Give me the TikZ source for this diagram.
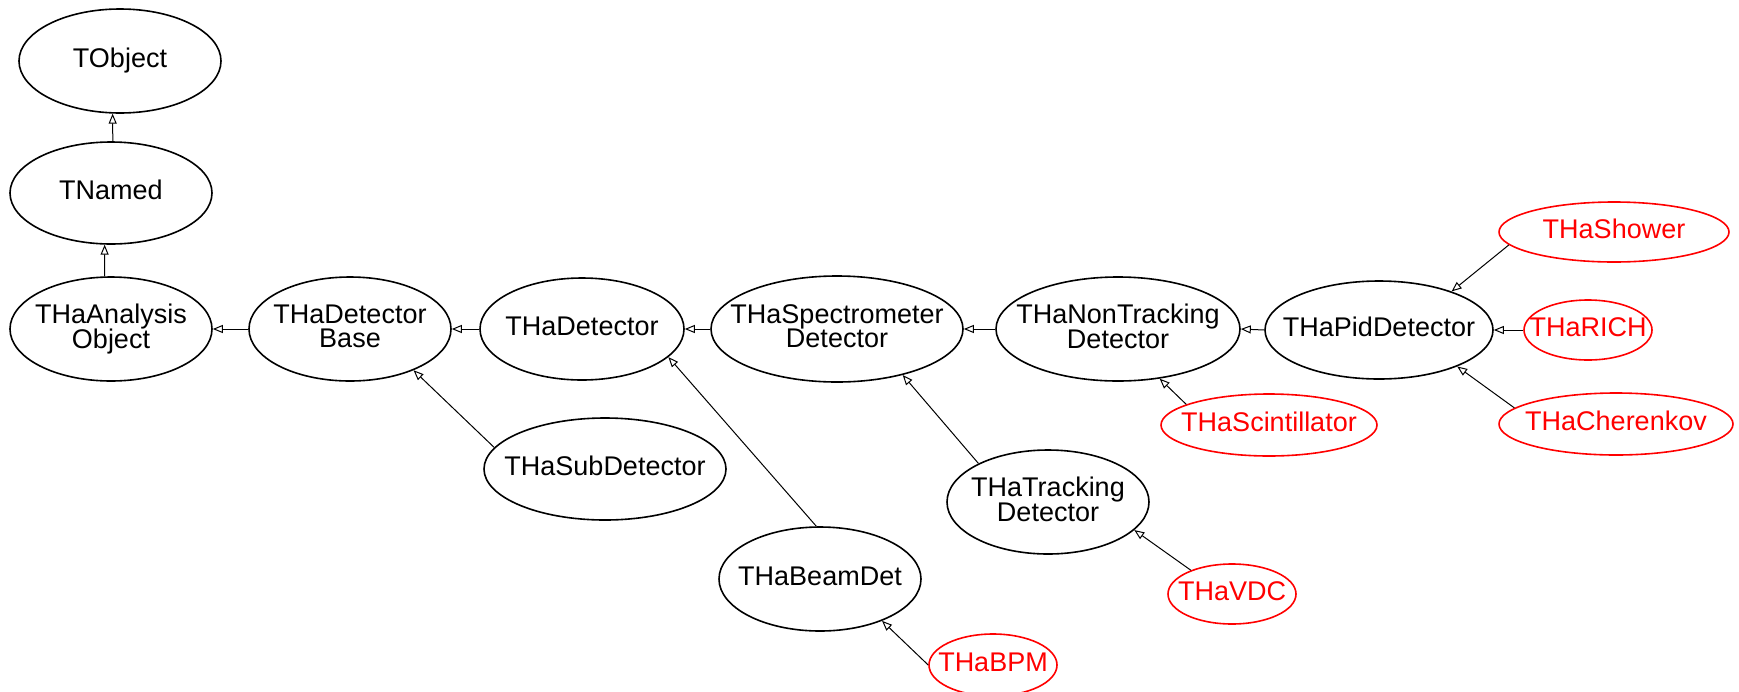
\documentclass[tikz,border=0pt]{standalone}
\usepackage{fontspec}
\setmainfont{Liberation Sans}
\usetikzlibrary{shapes.geometric,arrows.meta}

\newcommand\clsname[1]{\makebox[0pt]{\begin{tabular}{@{}c@{}}#1\end{tabular}}}

\tikzset{
  cls/.style={ellipse,draw,line width=0.8pt,inner sep=0pt,
    font=\fontsize{13.5}{9.5}\selectfont},
  inh/.style={line width=0.5pt,-{Triangle[open,length=5pt,width=4pt]}}
}

\begin{document}
\begin{tikzpicture}[x=0.5pt,y=-0.5pt]
\useasboundingbox (0,0) rectangle (1739,691);

% classes: name/x/y/rx/ry/label/colour
\foreach \n/\x/\y/\rx/\ry/\t/\c in {
  tobj/120/61/101/52/TObject/black,
  tnamed/111/193/101/51/TNamed/black,
  tanaobj/111/329/101/52/{THaAnalysis\\Object}/black,
  tdetbase/350/329/101/52/{THaDetector\\Base}/black,
  tdet/582/329/102/51/THaDetector/black,
  tspec/837/329/126/53/{THaSpectrometer\\Detector}/black,
  tnontrk/1118/329/122/52/{THaNonTracking\\Detector}/black,
  tpid/1379/330/114/49/THaPidDetector/black,
  tsub/605/469/121/51/THaSubDetector/black,
  ttrk/1048/502/101/52/{THaTracking\\Detector}/black,
  tbeam/820/579/101/52/THaBeamDet/black,
  tshower/1614/232/115/30/THaShower/red,
  trich/1588/330/64/30/THaRICH/red,
  tcher/1616/424/117/31/THaCherenkov/red,
  tscint/1269/425/108/31/THaScintillator/red,
  tvdc/1232/594/64/30/THaVDC/red,
  tbpm/993/665/64/31/THaBPM/red}
  \node[cls,draw=\c,text=\c,minimum width=\rx pt,minimum height=\ry pt] (\n) at (\x,\y) {\clsname{\t}};

% inheritance, child.anchor -> parent.anchor
\foreach \a/\p/\b/\q in {tnamed/88/tobj/-98, tanaobj/97/tnamed/-97,
  tdetbase/west/tanaobj/east, tdet/west/tdetbase/east, tsub/169/tdetbase/-33,
  tspec/west/tdet/east, tbeam/94/tdet/-18,
  tnontrk/west/tspec/east, ttrk/151/tspec/-35,
  tpid/west/tnontrk/east, tscint/166/tnontrk/-50,
  tshower/187/tpid/28, trich/west/tpid/east, tcher/171/tpid/-25,
  tvdc/150/ttrk/-18, tbpm/180/tbeam/-34}
  \draw[inh] (\a.\p) -- (\b.\q);
\end{tikzpicture}
\end{document}
